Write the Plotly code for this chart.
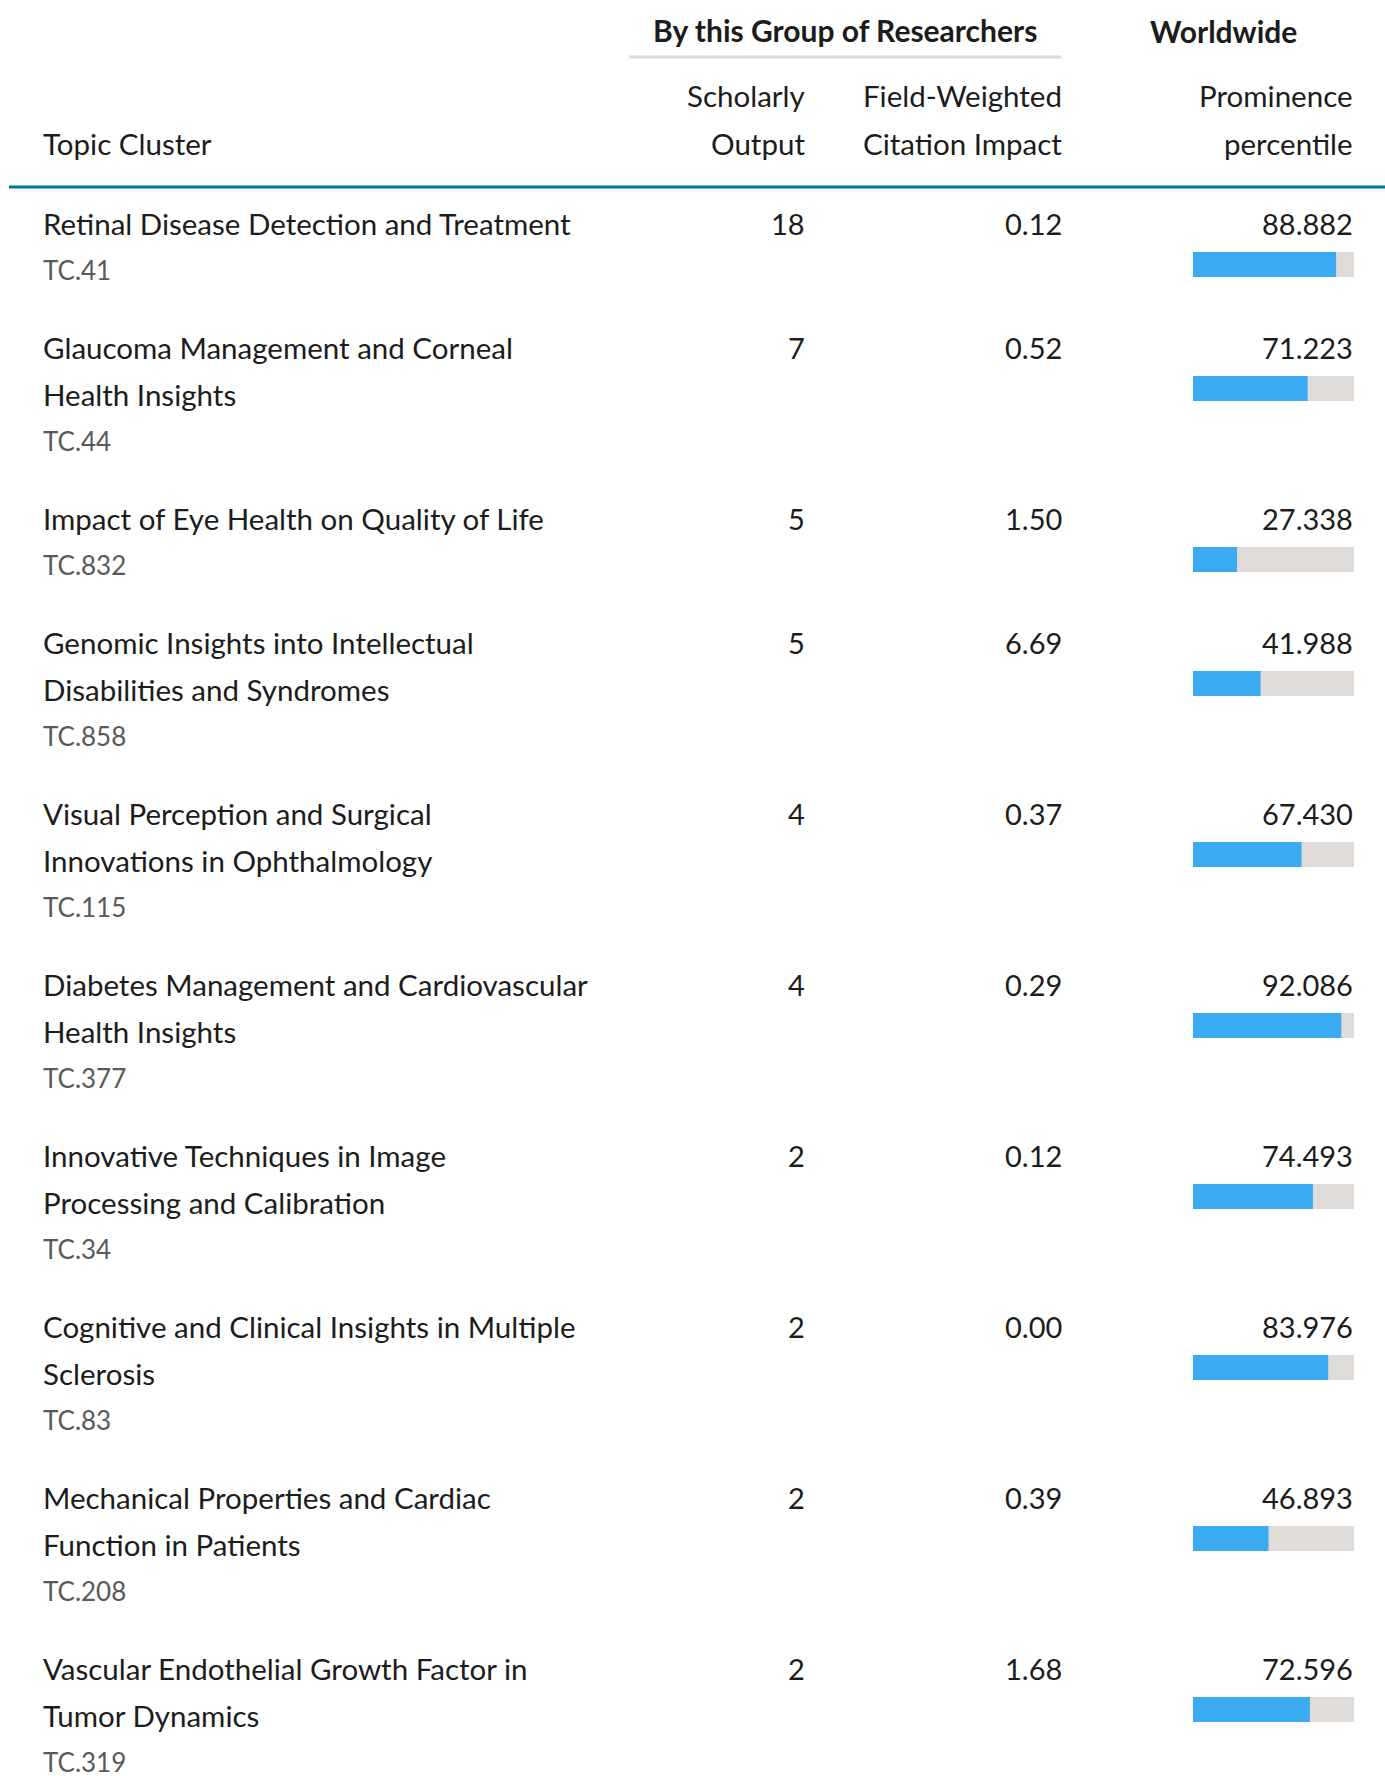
import plotly.graph_objects as go

# ---------------- data ----------------
topics = [
    "Retinal Disease Detection and Treatment",
    "Glaucoma Management and Corneal\nHealth Insights",
    "Impact of Eye Health on Quality of Life",
    "Genomic Insights into Intellectual\nDisabilities and Syndromes",
    "Visual Perception and Surgical\nInnovations in Ophthalmology",
    "Diabetes Management and Cardiovascular\nHealth Insights",
    "Innovative Techniques in Image\nProcessing and Calibration",
    "Cognitive and Clinical Insights in Multiple\nSclerosis",
    "Mechanical Properties and Cardiac\nFunction in Patients",
    "Vascular Endothelial Growth Factor in\nTumor Dynamics",
]
codes = ["TC.41", "TC.44", "TC.832", "TC.858", "TC.115",
         "TC.377", "TC.34", "TC.83", "TC.208", "TC.319"]
scholarly_output = [18, 7, 5, 5, 4, 4, 2, 2, 2, 2]
fwci = [0.12, 0.52, 1.50, 6.69, 0.37, 0.29, 0.12, 0.00, 0.39, 1.68]
prominence = [88.882, 71.223, 27.338, 41.988, 67.430,
              92.086, 74.493, 83.976, 46.893, 72.596]

header_group = "By this Group of Researchers"
header_world = "Worldwide"
col_headers = ["Topic Cluster", "Scholarly\nOutput",
               "Field-Weighted\nCitation Impact", "Prominence\npercentile"]

# ---------------- layout constants ----------------
W, H = 1385, 1776
FONT = "Lato"
FS = 29.5
FS_NUM = 29
FS_BOLD = 30
FS_CODE = 26
TXT = "#1c1c1c"
GRAY_TXT = "#595959"
TEAL = "#007398"
BLUE = "#3aabf0"
TRACK = "#dedbd9"

X_TITLE = 42
X_OUT = 806
X_FWCI = 1063
X_PROM = 1354
BAR_X0 = 1193

FIRST_ROW = 223.5
ROW_BASE = 124
LINE_H = 47
CODE_GAP = 46.5
BAR_OFF = 41
BAR_H = 25
HDR_Y1, HDR_Y2 = 95, 143

# compute row positions from the number of title lines
row_y = []
y = FIRST_ROW
for t in topics:
    row_y.append(y)
    y += ROW_BASE + LINE_H * (len(t.split("\n")) - 1)
bar_y = [r + BAR_OFF for r in row_y]

fig = go.Figure()

# percentile track + bar
fig.add_trace(go.Bar(
    x=[100] * len(prominence), y=bar_y, orientation="h", width=BAR_H,
    marker=dict(color=TRACK, line=dict(width=0)),
    xaxis="x2", yaxis="y", hoverinfo="skip", showlegend=False))
fig.add_trace(go.Bar(
    x=prominence, y=bar_y, orientation="h", width=BAR_H,
    marker=dict(color=BLUE, line=dict(width=0)),
    xaxis="x2", yaxis="y", showlegend=False,
    hovertemplate="%{x:.3f}<extra></extra>"))

ann = []


def text(x, y, s, anchor="left", color=TXT, size=FS, bold=False):
    if bold:
        s = "<b>" + s + "</b>"
    ann.append(dict(x=x, y=y, xref="x", yref="y", text=s, showarrow=False,
                    xanchor=anchor, yanchor="middle", borderpad=0,
                    font=dict(family=FONT, size=size, color=color)))


# headers
text((652 + 1038) / 2, 29.5, header_group, anchor="center", size=FS_BOLD, bold=True)
text(1223, 31, header_world, anchor="center", size=FS_BOLD, bold=True)
text(X_TITLE, HDR_Y2, col_headers[0])
for xr, h in zip([X_OUT, X_FWCI, X_PROM], col_headers[1:]):
    l1, l2 = h.split("\n")
    text(xr, HDR_Y1, l1, anchor="right")
    text(xr, HDR_Y2, l2, anchor="right")

# rows
for i, t in enumerate(topics):
    lines = t.split("\n")
    for k, ln in enumerate(lines):
        text(X_TITLE, row_y[i] + k * LINE_H, ln)
    text(X_TITLE, row_y[i] + (len(lines) - 1) * LINE_H + CODE_GAP, codes[i],
         color=GRAY_TXT, size=FS_CODE)
    text(X_OUT, row_y[i], str(scholarly_output[i]), anchor="right", size=FS_NUM)
    text(X_FWCI, row_y[i], f"{fwci[i]:.2f}", anchor="right", size=FS_NUM)
    text(X_PROM, row_y[i], f"{prominence[i]:.3f}", anchor="right", size=FS_NUM)

shapes = [
    dict(type="line", xref="x", yref="y", x0=629, x1=1061, y0=57, y1=57,
         line=dict(color="#d9d9d9", width=3)),
    dict(type="line", xref="x", yref="y", x0=9, x1=W, y0=187, y1=187,
         line=dict(color=TEAL, width=3)),
]

fig.update_layout(
    width=W, height=H, margin=dict(l=0, r=0, t=0, b=0),
    paper_bgcolor="white", plot_bgcolor="white",
    barmode="overlay", showlegend=False,
    xaxis=dict(range=[0, W], domain=[0, 1], visible=False, fixedrange=True),
    xaxis2=dict(range=[0, 100], domain=[BAR_X0 / W, X_PROM / W], anchor="y",
                visible=False, fixedrange=True),
    yaxis=dict(range=[H, 0], domain=[0, 1], visible=False, fixedrange=True),
    annotations=ann, shapes=shapes,
    font=dict(family=FONT, color=TXT),
)

fig.write_html("out.html", config={"displayModeBar": False},
               post_script="document.body.style.margin='0';")
